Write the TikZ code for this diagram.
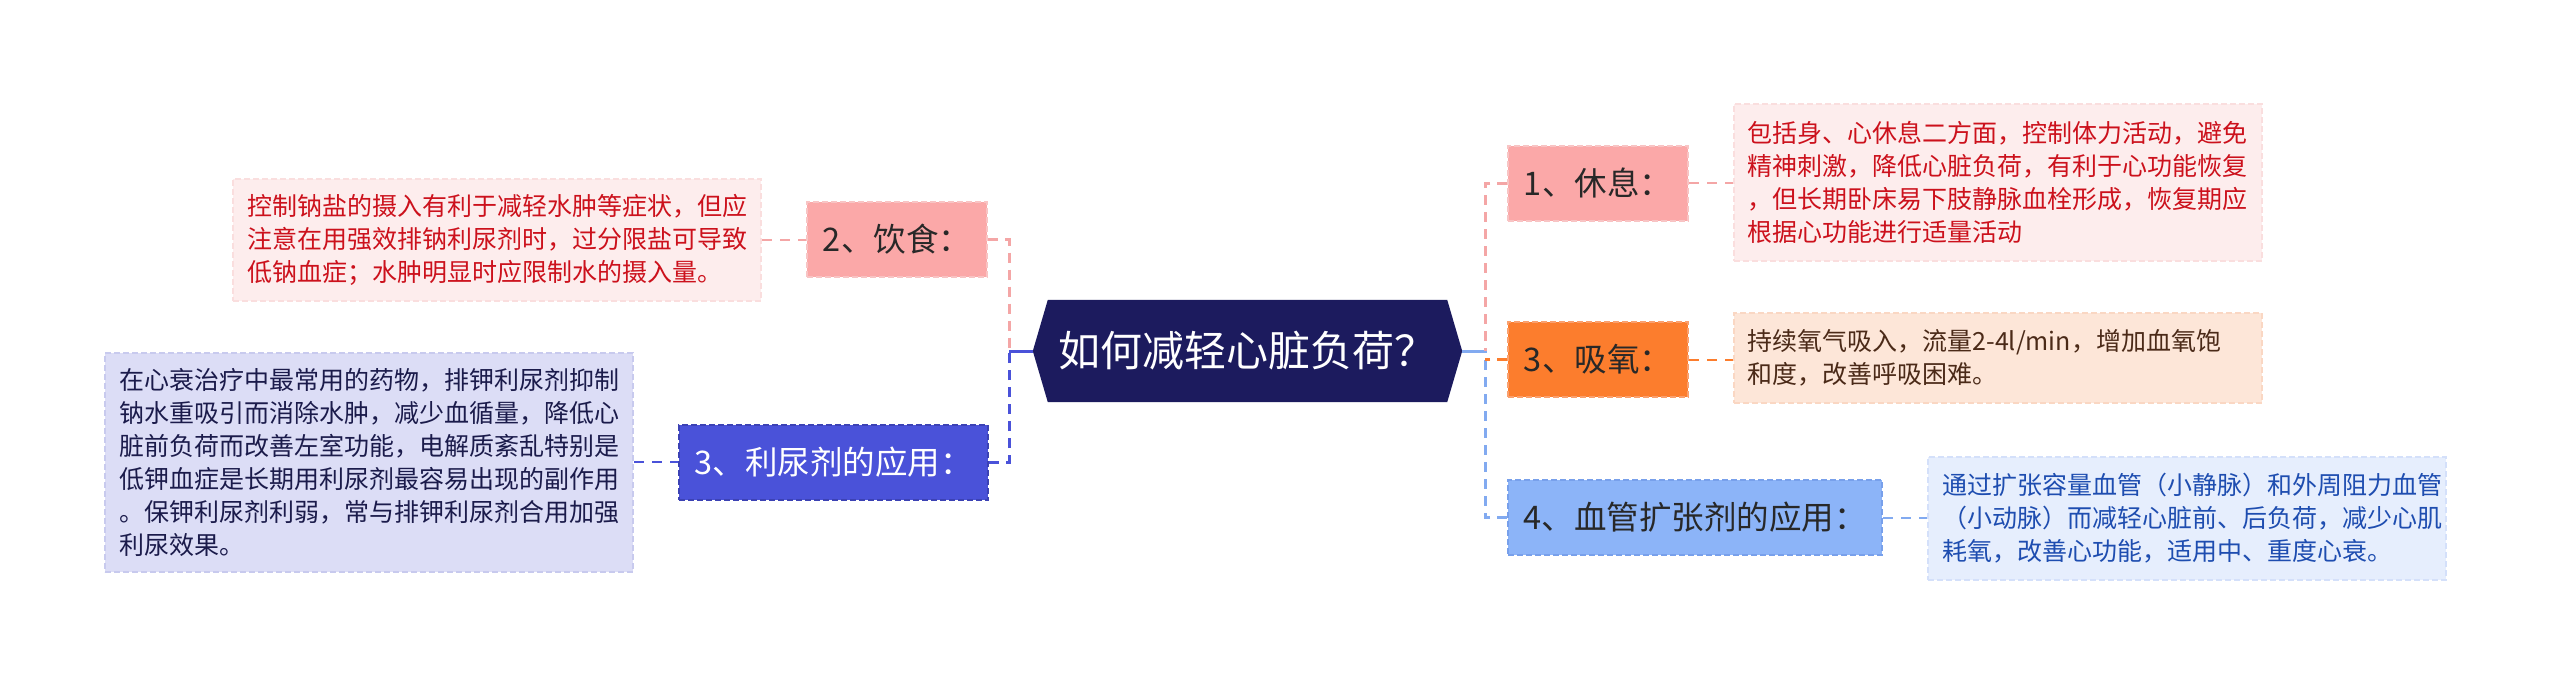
\documentclass[tikz,border=0pt]{standalone}
\usepackage{fontspec}
\setmainfont{Noto Sans CJK SC}
\usetikzlibrary{backgrounds}
\definecolor{navyC}{RGB}{28,27,94}
\definecolor{pinkF}{RGB}{251,168,168}
\definecolor{pinkD}{RGB}{248,196,196}
\definecolor{pinkL}{RGB}{244,166,166}
\definecolor{violF}{RGB}{74,82,217}
\definecolor{violD}{RGB}{60,66,180}
\definecolor{oranF}{RGB}{252,125,45}
\definecolor{oranD}{RGB}{250,160,110}
\definecolor{lbluF}{RGB}{140,180,248}
\definecolor{lbluD}{RGB}{120,160,235}
\definecolor{lbluL}{RGB}{130,170,240}
\definecolor{txtD}{RGB}{40,40,40}
\definecolor{redT}{RGB}{204,17,28}
\definecolor{redF}{RGB}{253,237,237}
\definecolor{redB}{RGB}{250,222,222}
\definecolor{navT}{RGB}{27,27,75}
\definecolor{lavF}{RGB}{220,221,246}
\definecolor{lavB}{RGB}{200,202,238}
\definecolor{brnT}{RGB}{75,42,24}
\definecolor{pchF}{RGB}{253,230,216}
\definecolor{pchB}{RGB}{250,215,195}
\definecolor{bluT}{RGB}{30,77,176}
\definecolor{skyF}{RGB}{230,238,253}
\definecolor{skyB}{RGB}{212,224,250}
\begin{document}
\begin{tikzpicture}[x=1pt,y=-1pt,
  lbl/.style={inner xsep=8pt, inner ysep=0pt, minimum height=75pt, line width=2pt,
    dash pattern=on 6pt off 3pt, font=\fontsize{32.5}{39}\selectfont, text=txtD},
  desc/.style={align=left, text width=500pt, inner xsep=14pt, inner ysep=0pt,
    line width=2pt, dash pattern=on 6pt off 3pt, font=\fontsize{25}{33}\selectfont},
  conn/.style={line width=3pt, dash pattern=on 10pt off 7pt},
  tconn/.style={line width=2pt, dash pattern=on 10pt off 8pt}]
\begin{scope}[on background layer]
\fill[white] (0,0) rectangle (2560,686);
\end{scope}
\useasboundingbox (0,0) rectangle (2560,686);

% centre
\node[minimum width=429pt, minimum height=102pt, inner sep=0pt, text=white,
  font=\fontsize{42}{50}\selectfont] (c) at (1247.5,351) {如何减轻心脏负荷？};
\begin{scope}[on background layer]
\fill[navyC] (c.west) -- ([xshift=15pt]c.north west) -- ([xshift=-15pt]c.north east)
  -- (c.east) -- ([xshift=-15pt]c.south east) -- ([xshift=15pt]c.south west) -- cycle;
\end{scope}

% left side
\node[lbl, fill=pinkF, draw=pinkD, minimum width=180pt] (b2) at (897,239.5) {2、饮食：};
\node[lbl, fill=violF, draw=violD, minimum width=309pt, text=white] (b3) at (833.5,462) {3、利尿剂的应用：};
\node[desc, fill=redF, draw=redB, text=redT, minimum height=122pt] (t2) at (497,239.5)
  {控制钠盐的摄入有利于减轻水肿等症状，但应\\注意在用强效排钠利尿剂时，过分限盐可导致\\低钠血症；水肿明显时应限制水的摄入量。};
\node[desc, fill=lavF, draw=lavB, text=navT, minimum height=219pt] (t3) at (369,462)
  {在心衰治疗中最常用的药物，排钾利尿剂抑制\\钠水重吸引而消除水肿，减少血循量，降低心\\脏前负荷而改善左室功能，电解质紊乱特别是\\低钾血症是长期用利尿剂最容易出现的副作用\\。保钾利尿剂利弱，常与排钾利尿剂合用加强\\利尿效果。};

% right side
\node[lbl, fill=pinkF, draw=pinkD, minimum width=180pt] (b1) at (1598,183) {1、休息：};
\node[lbl, fill=oranF, draw=oranD, minimum width=180pt] (b5) at (1598,359.5) {3、吸氧：};
\node[lbl, fill=lbluF, draw=lbluD, minimum width=374pt] (b4) at (1695,517.5) {4、血管扩张剂的应用：};
\node[desc, fill=redF, draw=redB, text=redT, minimum height=157pt] (t1) at (1997.5,182)
  {包括身、心休息二方面，控制体力活动，避免\\精神刺激，降低心脏负荷，有利于心功能恢复\\，但长期卧床易下肢静脉血栓形成，恢复期应\\根据心功能进行适量活动};
\node[desc, fill=pchF, draw=pchB, text=brnT, minimum height=90pt] (t5) at (1997.5,358)
  {持续氧气吸入，流量2-4l/min，增加血氧饱\\和度，改善呼吸困难。};
\node[desc, fill=skyF, draw=skyB, text=bluT, minimum height=123pt, text width=490pt] (t4) at (2187,518.5)
  {通过扩张容量血管（小静脉）和外周阻力血管\\（小动脉）而减轻心脏前、后负荷，减少心肌\\耗氧，改善心功能，适用中、重度心衰。};

% junctions
\coordinate (jl) at (1009,351);
\coordinate (jr) at (1485,351);

\draw[conn, pinkL] (b2.east) -| (jl);
\draw[conn, violF] (b3.east) -| (jl);
\draw[line width=3pt, violF] (jl) -- (c.west);
\draw[line width=3pt, lbluL] (c.east) -- (jr);
\draw[conn, pinkL] (b1.west) -| (jr);
\draw[conn, lbluL] (b4.west) -| (jr);
\draw[conn, oranF] (b5.west) -- (b5.west -| jr);

\draw[tconn, pinkL] (t2.east |- b2.west) -- (b2.west);
\draw[tconn, violF] (t3.east |- b3.west) -- (b3.west);
\draw[tconn, pinkL] (b1.east) -- (b1.east -| t1.west);
\draw[tconn, oranF] (b5.east) -- (b5.east -| t5.west);
\draw[tconn, lbluL] (b4.east) -- (b4.east -| t4.west);
\end{tikzpicture}
\end{document}
